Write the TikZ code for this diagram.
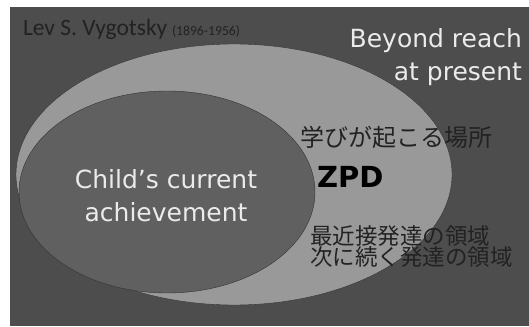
\documentclass[tikz,border=0pt]{standalone}
\usepackage{fontspec}
\setmainfont{DejaVu Sans}
\newfontfamily\calfont{Carlito}
\newfontfamily\jpfont{Noto Sans CJK JP}
\definecolor{panel}{HTML}{4D4D4D}
\definecolor{zone}{HTML}{999999}
\definecolor{core}{HTML}{606060}
\definecolor{ink}{HTML}{222222}
\begin{document}
\begin{tikzpicture}[x=1pt,y=-1pt,line join=round,line cap=round]
  \tikzset{every node/.style={inner sep=0pt,outer sep=0pt},
    whitetext/.style={text=white!92!black,font=\fontsize{25}{33}\selectfont},
    jptext/.style={text=ink,font=\jpfont\fontsize{22.5}{21}\selectfont}}
  \useasboundingbox (0,0) rectangle (529,326);
  \fill[white] (0,0) rectangle (529,326);
  \fill[panel] (10,7) rectangle (529,326);
  % zone ellipses
  \draw[fill=zone,draw=black!80,thin] (234,174.5) ellipse (218pt and 130.5pt);
  \draw[fill=core,draw=black!80,thin] (167,192) ellipse (148pt and 101pt);
  % labels
  \node[anchor=base west,text=ink,font=\calfont\fontsize{23.5}{23}\selectfont] (name) at (23,36) {Lev S. Vygotsky};
  \node[anchor=base west,text=ink,font=\calfont\fontsize{13.7}{14}\selectfont] (years) at (172,36) {(1896-1956)};
  \node[whitetext,anchor=north east,align=right] (beyond) at (522,29) {Beyond reach\\at present};
  \node[whitetext,align=center] (child) at (166,196) {Child's current\\achievement};
  \node[jptext,anchor=west,font=\jpfont\fontsize{24}{24}\selectfont] (place) at (300,137) {学びが起こる場所};
  \node[anchor=base west,font=\bfseries\fontsize{29}{29}\selectfont] (zpd) at (317,187) {ZPD};
  \node[jptext,anchor=west,align=left] (zone) at (310,247) {最近接発達の領域\\次に続く発達の領域};
\end{tikzpicture}
\end{document}
